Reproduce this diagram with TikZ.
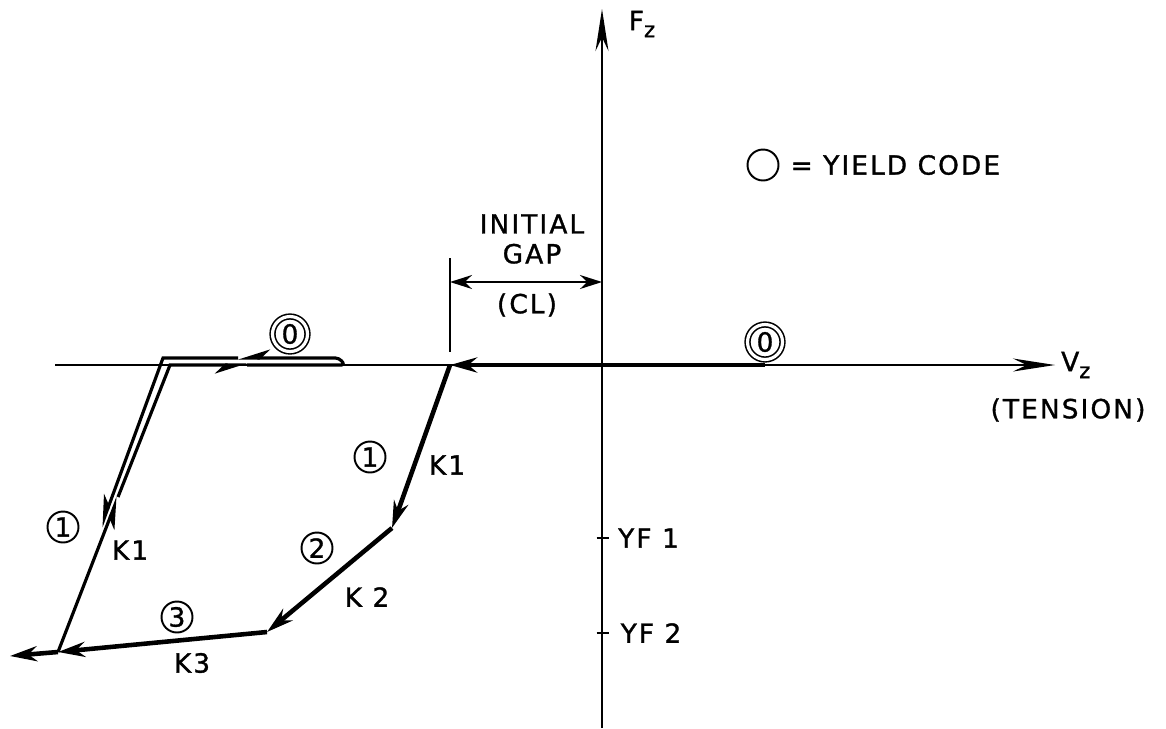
\documentclass[tikz,border=0pt]{standalone}
\usepackage{fontspec}
\setmainfont{DejaVu Sans}[LetterSpace=8,FakeBold=1.2]
\usetikzlibrary{arrows.meta, positioning}
\newcommand{\subz}{\raisebox{-4pt}{\fontsize{12}{12}\selectfont z}}
\tikzset{
  axis/.style={line width=1.1pt,-{Stealth[length=8.4mm,width=2.6mm]}},
  load/.style={line width=2.6pt},
  twin/.style={line width=1.8pt},
  tip/.style={-{Stealth[length=5.4mm,width=3mm]}},
  half/.style={-{Stealth[harpoon,swap,length=5.4mm,width=3.4mm]}},
  dim/.style={line width=0.9pt,{Stealth[length=4.4mm,width=2.8mm]}-{Stealth[length=4.4mm,width=2.8mm]}},
  code/.style={circle,draw,line width=1.1pt,minimum size=6.2mm,inner sep=0pt},
  zcode/.style={code,double,double distance=1.8pt,line width=0.9pt,minimum size=7mm}
}

\begin{document}
\begin{tikzpicture}[x=0.02cm,y=-0.02cm,font=\fontsize{15}{17}\selectfont]
\useasboundingbox (0,0) rectangle (1166,728);
% axes
\coordinate (xl) at (55,365);
\coordinate (xr) at (1055,365);
\coordinate (yb) at (602,728);
\coordinate (yt) at (602,9);
\draw[axis] (xl) -- (xr);
\draw[axis] (yb) -- (yt);
\node (fz) at (642,24) {F\subz};
\node[right=0pt of xr] (vz) {V\subz};
\node (tens) at (1068,410) {(TENSION)};
% yield levels
\coordinate (t1) at (602,538);
\coordinate (t2) at (602,633);
\draw[line width=0.9pt] ([xshift=-3pt]t1) -- ([xshift=4pt]t1);
\draw[line width=0.9pt] ([xshift=-3pt]t2) -- ([xshift=4pt]t2);
\node[right=2mm of t1] (yfa) {YF 1};
\node[right=2.5mm of t2] (yfb) {YF 2};
% initial gap
\coordinate (gtop) at (450,258);
\coordinate (gbot) at (450,352);
\coordinate (ga) at (450,282);
\coordinate (gb) at (602,282);
\draw[line width=0.9pt] (gtop) -- (gbot);
\draw[dim] (ga) -- (gb);
\node[align=center] (gaptxt) at (532,239) {INITIAL\\GAP};
\node (cltxt) at (527,305) {(CL)};
% legend
\node[code] (key) at (763,165) {};
\node[right=1mm of key] (keytxt) {= YIELD CODE};
% loading path
\coordinate (zr) at (765,365);
\coordinate (gap) at (450,365);
\coordinate (yf1) at (392,528);
\coordinate (yf2) at (267,632);
\coordinate (bl) at (58,652);
\coordinate (far) at (10,656);
\draw[load, tip] (zr) -- (gap);
\draw[load, tip] (gap) -- (yf1);
\draw[load, tip] (yf1) -- (yf2);
\draw[load, tip] (yf2) -- (bl);
\draw[load, tip] (bl) -- (far);
% unloading and reloading
\coordinate (up) at (118,497);
\coordinate (clo) at (170,365);
\coordinate (mlo) at (247,365);
\coordinate (rlo) at (345,365);
\coordinate (rup) at (339,358);
\coordinate (mup) at (238,358);
\coordinate (cup) at (163,358);
\coordinate (dn) at (101,527);
\draw[twin, half] (bl) -- (up);
\draw[twin, half] (up) -- (clo) -- (mlo);
\draw[twin, half, rounded corners=2pt] (mlo) -- (rlo) -- (rup) -- (mup);
\draw[twin, half] (mup) -- (cup) -- (dn);
% yield codes and stiffnesses
\node[zcode] (z0a) at (290,334) {0};
\node[zcode] (z0b) at (765,342) {0};
\node[code] (c1a) at (370,457) {1};
\node[code] (c1b) at (63,527) {1};
\node[code] (c2) at (317,548) {2};
\node[code] (c3) at (177,617) {3};
\node (k1a) at (447,465) {K1};
\node (k1b) at (130,550) {K1};
\node (k2) at (367,597) {K 2};
\node (k3) at (192,663) {K3};
\end{tikzpicture}
\end{document}
